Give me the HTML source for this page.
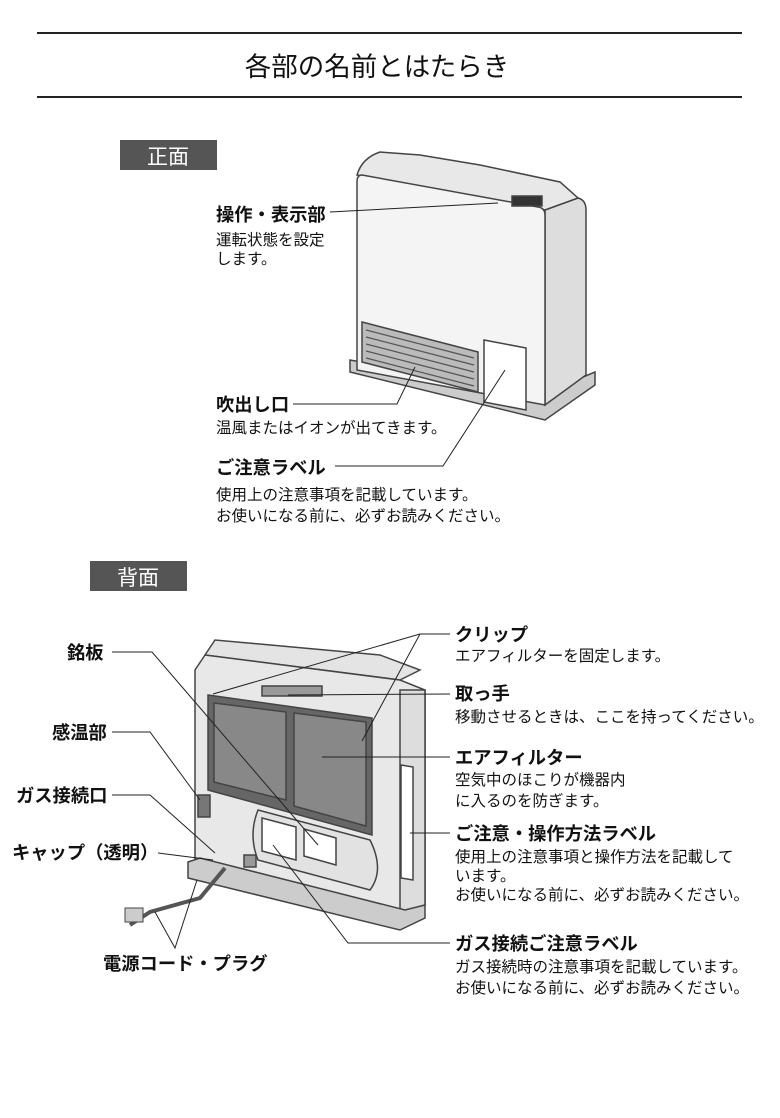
<!DOCTYPE html>
<html><head><meta charset="utf-8"><style>
html,body{margin:0;padding:0;background:#fff}
svg{display:block}
text{font-family:"Liberation Sans","Noto Sans CJK JP",sans-serif;fill:#111}
.h{font-size:18.3px;font-weight:bold}
.s{font-size:15.5px}
</style></head><body>
<svg width="780" height="1118" viewBox="0 0 780 1118" xmlns="http://www.w3.org/2000/svg">
<line x1="37" y1="33" x2="742" y2="33" stroke="#222" stroke-width="2"/>
<line x1="37" y1="97" x2="742" y2="97" stroke="#222" stroke-width="2"/>
<text x="377" y="76" text-anchor="middle" font-size="26.5">各部の名前とはたらき</text>
<rect x="120" y="140" width="97" height="30" fill="#555"/>
<text x="168" y="164" text-anchor="middle" font-size="21" style="fill:#fff">正面</text>
<rect x="90" y="561" width="97" height="30" fill="#555"/>
<text x="138" y="585" text-anchor="middle" font-size="21" style="fill:#fff">背面</text>

<!-- front heater -->
<g stroke="#444" stroke-width="1.5" fill="#f2f2f2">
<path d="M350 360 L540 395 L595 372 L595 385 L545 420 L350 372 Z" fill="#ccc"/>
<path d="M545 210 L578 198 Q586 200 586 210 L586 375 L545 405 Z" fill="#ddd"/>
<path d="M357 175 Q362 158 380 152 L420 155 L480 165 L560 182 L578 198 L545 210 Z" fill="#e8e8e8"/>
<path d="M362 175 Q357 175 357 182 L357 370 L545 405 L545 215 Q545 208 538 207 Z" fill="#f4f4f4"/>
<path d="M362 322 L478 352 L478 392 L362 362 Z" fill="#bbb"/>
<path d="M484 340 L526 348 L526 410 L484 402 Z" fill="#fff"/>
<rect x="512" y="196" width="30" height="10" fill="#333"/>
</g>
<g stroke="#555" stroke-width="1.2">
<line x1="366" y1="330" x2="474" y2="358"/><line x1="366" y1="337" x2="474" y2="365"/><line x1="366" y1="344" x2="474" y2="372"/><line x1="366" y1="351" x2="474" y2="379"/><line x1="366" y1="358" x2="474" y2="386"/>
</g>
<g stroke="#222" stroke-width="1" fill="none">
<line x1="330" y1="212" x2="498" y2="203"/>
<polyline points="293,404 397,404 415,367"/>
<polyline points="335,466 443,466 505,370"/>
</g>
<text x="216" y="221" class="h">操作・表示部</text>
<text x="216" y="245" class="s">運転状態を設定</text>
<text x="216" y="264" class="s">します。</text>
<text x="216" y="411" class="h">吹出し口</text>
<text x="216" y="433" class="s">温風またはイオンが出てきます。</text>
<text x="216" y="474" class="h">ご注意ラベル</text>
<text x="216" y="500" class="s">使用上の注意事項を記載しています。</text>
<text x="216" y="521" class="s">お使いになる前に、必ずお読みください。</text>

<!-- back heater -->
<g stroke="#444" stroke-width="1.5">
<path d="M205 655 L215 640 L380 655 L420 670 L400 680 Z" fill="#e4e4e4"/>
<path d="M195 670 L205 655 L400 680 L425 690 L425 905 L400 920 L195 870 Z" fill="#e8e8e8"/>
<path d="M400 690 L425 690 L425 905 L400 915 Z" fill="#ddd"/>
<path d="M208 695 L372 718 L372 835 L208 790 Z" fill="#666"/>
<path d="M214 703 L286 712 L286 800 L214 782 Z" fill="#888"/>
<path d="M294 713 L366 722 L366 826 L294 806 Z" fill="#888"/>
<path d="M258 810 L370 840 Q385 870 370 890 L258 860 Q248 835 258 810 Z" fill="#e2e2e2"/>
<path d="M262 818 L296 827 L296 860 L262 851 Z" fill="#fff"/>
<path d="M304 829 L336 838 L336 865 L304 856 Z" fill="#fff"/>
<path d="M401 765 L413 767 L413 880 L401 878 Z" fill="#fff"/>
<path d="M188 862 L200 858 L405 910 L425 905 L425 918 L400 930 L188 878 Z" fill="#ccc"/>
<rect x="262" y="686" width="60" height="10" fill="#999"/>
<rect x="198" y="795" width="12" height="22" fill="#777"/>
<rect x="244" y="855" width="12" height="12" fill="#999"/>
</g>
<path d="M225 868 L200 898 L150 912 L130 925" stroke="#555" stroke-width="4" fill="none"/>
<rect x="125" y="908" width="18" height="14" fill="#ccc" stroke="#444"/>
<g stroke="#222" stroke-width="1" fill="none">
<polyline points="450,634 420,634 213,694"/>
<line x1="420" y1="634" x2="362" y2="741"/>
<line x1="450" y1="694" x2="288" y2="695"/>
<line x1="450" y1="757" x2="322" y2="757"/>
<line x1="450" y1="833" x2="410" y2="833"/>
<polyline points="450,943 348,943 273,845"/>
<polyline points="112,652 152,652 318,845"/>
<polyline points="112,732 150,732 200,800"/>
<polyline points="112,795 150,795 215,853"/>
<line x1="158" y1="853" x2="213" y2="860"/>
<polyline points="155,912 175,948 197,880"/>
</g>
<text x="455" y="641" class="h">クリップ</text>
<text x="455" y="661" class="s">エアフィルターを固定します。</text>
<text x="455" y="700" class="h">取っ手</text>
<text x="455" y="722" class="s">移動させるときは、ここを持ってください。</text>
<text x="455" y="764" class="h">エアフィルター</text>
<text x="455" y="785" class="s">空気中のほこりが機器内</text>
<text x="455" y="806" class="s">に入るのを防ぎます。</text>
<text x="455" y="840" class="h">ご注意・操作方法ラベル</text>
<text x="455" y="862" class="s">使用上の注意事項と操作方法を記載して</text>
<text x="455" y="881" class="s">います。</text>
<text x="455" y="900" class="s">お使いになる前に、必ずお読みください。</text>
<text x="455" y="950" class="h">ガス接続ご注意ラベル</text>
<text x="455" y="972" class="s">ガス接続時の注意事項を記載しています。</text>
<text x="455" y="993" class="s">お使いになる前に、必ずお読みください。</text>
<text x="67" y="659" class="h">銘板</text>
<text x="52" y="739" class="h">感温部</text>
<text x="16" y="802" class="h">ガス接続口</text>
<text x="12" y="859" class="h">キャップ（透明）</text>
<text x="103" y="970" class="h">電源コード・プラグ</text>
</svg>
</body></html>
